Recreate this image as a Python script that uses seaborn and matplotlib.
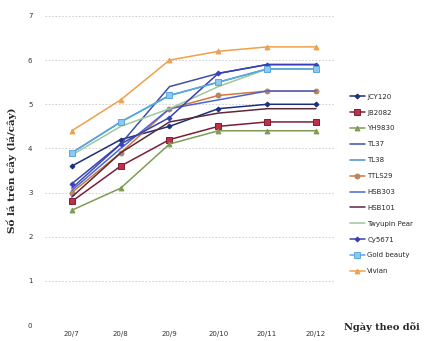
import matplotlib
matplotlib.use("Agg")
import matplotlib.pyplot as plt
import seaborn as sns
import pandas as pd

dates = ["20/7", "20/8", "20/9", "20/10", "20/11", "20/12"]

jcy120 = [3.6, 4.2, 4.5, 4.9, 5.0, 5.0]
jb2082 = [2.8, 3.6, 4.2, 4.5, 4.6, 4.6]
yh9830 = [2.6, 3.1, 4.1, 4.4, 4.4, 4.4]
tl37 = [3.1, 4.1, 5.4, 5.7, 5.9, 5.9]
tl38 = [3.9, 4.6, 5.2, 5.5, 5.8, 5.8]
ttls29 = [3.0, 3.9, 4.9, 5.2, 5.3, 5.3]
hsb303 = [3.05, 4.0, 4.9, 5.1, 5.3, 5.3]
hsb101 = [2.9, 3.9, 4.6, 4.8, 4.9, 4.9]
twyupin_pear = [3.85, 4.5, 4.9, 5.4, 5.8, 5.8]
cy5671 = [3.2, 4.1, 4.7, 5.7, 5.9, 5.9]
gold_beauty = [3.9, 4.6, 5.2, 5.5, 5.8, 5.8]
vivian = [4.4, 5.1, 6.0, 6.2, 6.3, 6.3]

names = ["JCY120", "JB2082", "YH9830", "TL37", "TL38", "TTLS29",
         "HSB303", "HSB101", "Twyupin Pear", "Cy5671", "Gold beauty", "Vivian"]
values = [jcy120, jb2082, yh9830, tl37, tl38, ttls29,
          hsb303, hsb101, twyupin_pear, cy5671, gold_beauty, vivian]

styles = {
    "JCY120": dict(color="#1c2f7a", marker="D", mfc="#1c2f7a", ms=2.5),
    "JB2082": dict(color="#7a1f35", marker="s", mfc="#c0304a", ms=4),
    "YH9830": dict(color="#7f9c55", marker="^", mfc="#7f9c55", ms=3.5),
    "TL37": dict(color="#3d4fa8", marker="", mfc="none", ms=0),
    "TL38": dict(color="#4a8fd0", marker="", mfc="none", ms=0),
    "TTLS29": dict(color="#d0783a", marker="o", mfc="#9a8f90", ms=3.5),
    "HSB303": dict(color="#4a64d8", marker="", mfc="none", ms=0),
    "HSB101": dict(color="#5a2a38", marker="", mfc="none", ms=0),
    "Twyupin Pear": dict(color="#9cc89c", marker="", mfc="none", ms=0),
    "Cy5671": dict(color="#3a3fb8", marker="D", mfc="#3a3fb8", ms=2.5),
    "Gold beauty": dict(color="#58a8e0", marker="s", mfc="#8cc8f0", ms=4),
    "Vivian": dict(color="#f0a048", marker="^", mfc="#f0a048", ms=3.5),
}

rows = []
for n, vals in zip(names, values):
    for i, (d, v) in enumerate(zip(dates, vals)):
        rows.append({"series": n, "pos": i, "date": d, "value": v})
df = pd.DataFrame(rows)

sns.set_theme(style="white")
fig = plt.figure(figsize=(4.26, 3.41), dpi=100)
ax = fig.add_axes([45 / 426, 16 / 341, 290 / 426, 309 / 341])

for n in names:
    s = styles[n]
    sub = df[df["series"] == n]
    sns.lineplot(data=sub, x="pos", y="value", ax=ax, color=s["color"],
                 marker=s["marker"] if s["marker"] else None,
                 markersize=s["ms"], markerfacecolor=s["mfc"],
                 markeredgecolor=s["color"], markeredgewidth=0.7,
                 linewidth=1.1, label=n, legend=False)

ax.set_ylim(0, 7)
ax.set_xlim(-0.55, 5.39)
ax.set_yticks(range(0, 8))
ax.set_yticklabels([str(i) for i in range(0, 8)], fontsize=5, color="#333333")
ax.set_xticks(range(len(dates)))
ax.set_xticklabels(dates, fontsize=5, color="#333333")
ax.tick_params(axis="y", length=0, pad=9)
ax.tick_params(axis="x", length=0, pad=4)
for sp in ax.spines.values():
    sp.set_visible(False)
ax.grid(axis="y", color="#c8c8d0", linestyle=(0, (2, 2)), linewidth=0.6)
ax.set_axisbelow(True)
ax.set_xlabel("")
ax.set_ylabel("Số lá trên cây (lá/cây)", fontsize=7.5, fontweight="bold",
              family="DejaVu Serif", labelpad=8)

fig.text(0.985, (341 - 327) / 341, "Ngày theo dõi", fontsize=7, fontweight="bold",
         family="DejaVu Serif", ha="right", va="center")

handles, labels = ax.get_legend_handles_labels()
fig.legend(handles, labels, loc="upper left", bbox_to_anchor=(347 / 426, 1 - 91 / 341),
           frameon=False, fontsize=5, handlelength=2.2, labelspacing=1.42,
           handletextpad=0.3, borderaxespad=0)

fig.savefig("out.png", dpi=100)
